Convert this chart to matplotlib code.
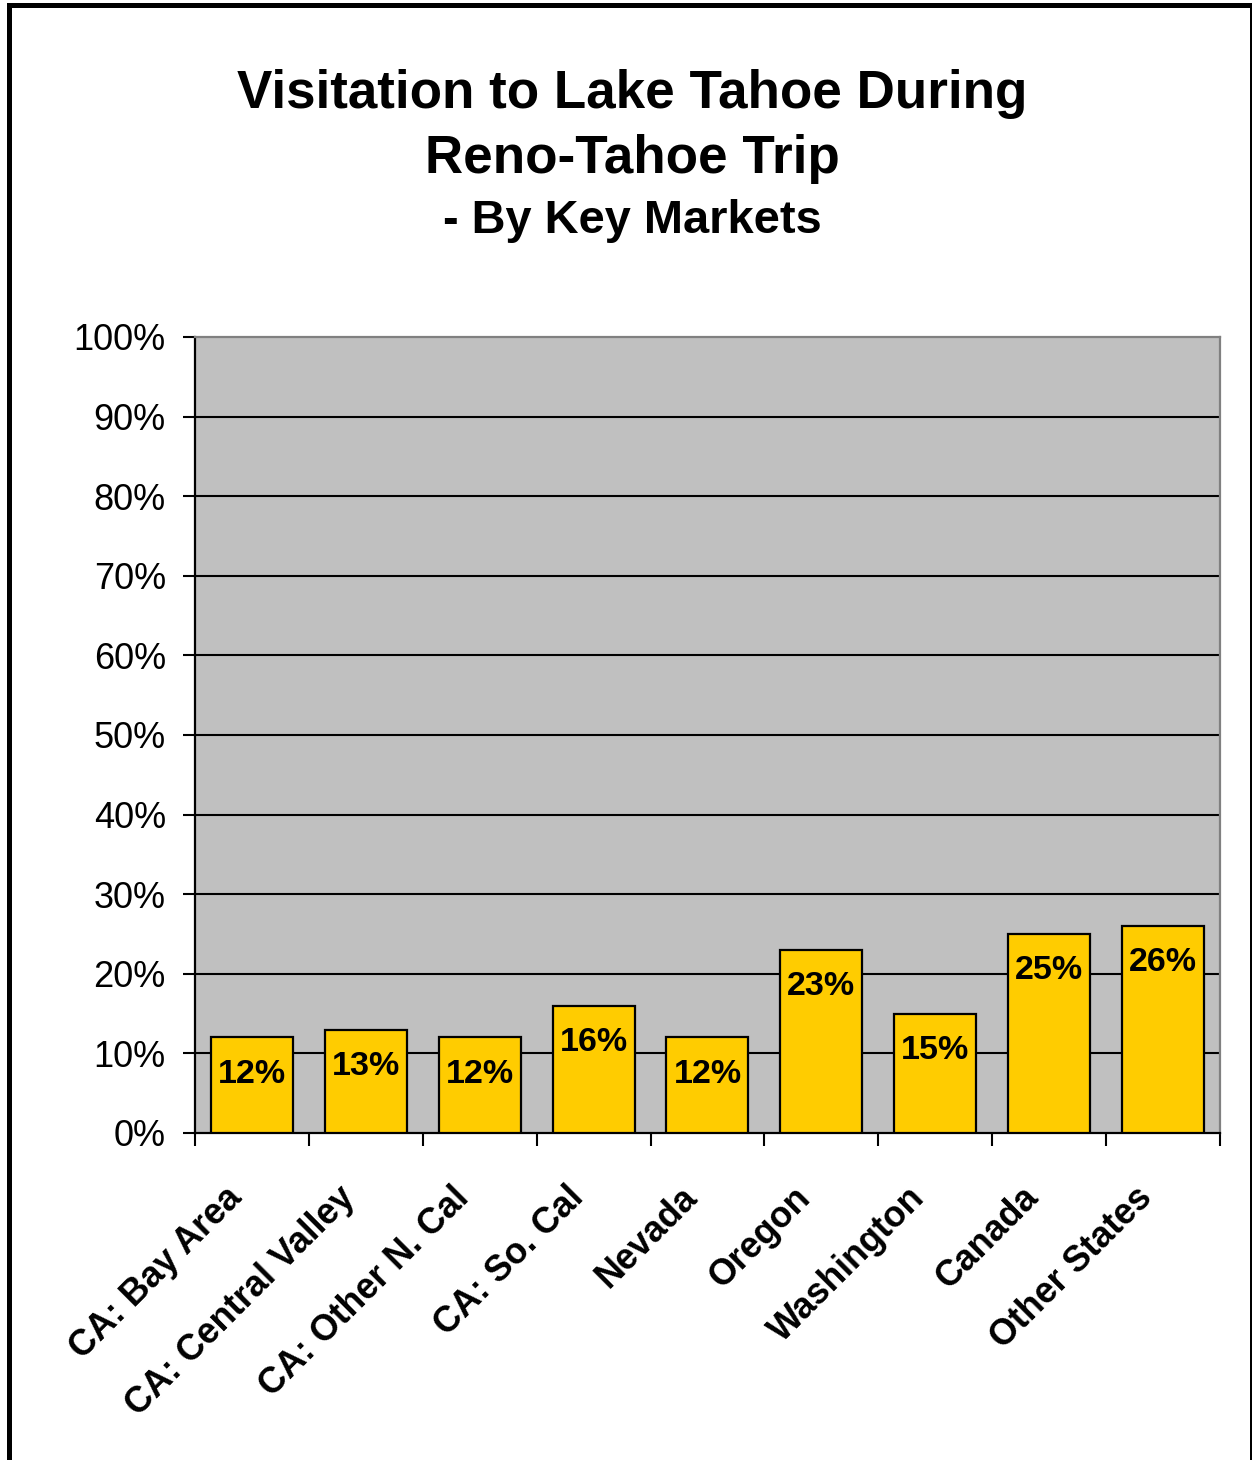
import matplotlib.pyplot as plt
import numpy as np
from matplotlib.patches import Rectangle
from matplotlib.ticker import FixedLocator, PercentFormatter
from matplotlib.transforms import ScaledTranslation

plt.rcParams["font.family"] = ["Liberation Sans", "DejaVu Sans"]

markets = [
    "CA: Bay Area",
    "CA: Central Valley",
    "CA: Other N. Cal",
    "CA: So. Cal",
    "Nevada",
    "Oregon",
    "Washington",
    "Canada",
    "Other States",
]
visited = [12, 13, 12, 16, 12, 23, 15, 25, 26]
title_lines = ["Visitation to Lake Tahoe During", "Reno-Tahoe Trip", "- By Key Markets"]

W, H = 1252, 1460
fig = plt.figure(figsize=(W / 100, H / 100), dpi=100)
ax = fig.add_axes([195 / W, 1 - 1133 / H, (1220 - 195) / W, (1133 - 337) / H])

# frame round the whole chart
fig.patches.append(Rectangle((7 / W, 0), 5 / W, 1 - 3 / H, transform=fig.transFigure,
                             facecolor="black", edgecolor="none"))
fig.patches.append(Rectangle((7 / W, 1 - 8 / H), 1243 / W, 5 / H, transform=fig.transFigure,
                             facecolor="black", edgecolor="none"))
fig.patches.append(Rectangle((1250 / W, 0), 2 / W, 1 - 3 / H, transform=fig.transFigure,
                             facecolor="black", edgecolor="none"))

# title, three lines
fig.text(632 / W, 1 - 108 / H, title_lines[0], ha="center", va="baseline",
         fontsize=38.2, fontweight="bold")
fig.text(632 / W, 1 - 173 / H, title_lines[1], ha="center", va="baseline",
         fontsize=38.2, fontweight="bold")
fig.text(632 / W, 1 - 233 / H, title_lines[2], ha="center", va="baseline",
         fontsize=33.8, fontweight="bold")

ax.set_facecolor("#C0C0C0")
x = np.arange(len(markets))
bars = ax.bar(x, visited, width=0.72, color="#FFCC00", edgecolor="black",
              linewidth=1.6, zorder=3)
for b, v in zip(bars, visited):
    ax.annotate(f"{v}%", (b.get_x() + b.get_width() / 2, v), xytext=(0, -26.5),
                textcoords="offset points", ha="center", va="center",
                fontsize=24.5, fontweight="bold", zorder=4)

ax.set_xlim(-0.5, len(markets) - 0.5)
ax.set_ylim(0, 100)
ax.set_yticks(np.arange(0, 101, 10))
ax.yaxis.set_major_formatter(PercentFormatter(decimals=0))
for y in range(10, 100, 10):
    ax.axhline(y, color="black", linewidth=1.5, zorder=1)

# category names, slanted, hung a little left of each bar centre
ax.set_xticks(x)
ax.set_xticklabels([])
label_pos = ax.get_xaxis_transform() + ScaledTranslation(-0.28, -0.47, fig.dpi_scale_trans)
for xi, name in zip(x, markets):
    ax.text(xi, 0, name, transform=label_pos, rotation=45, rotation_mode="anchor",
            ha="right", va="top", fontsize=25.8, fontweight="bold", clip_on=False)
ax.xaxis.set_minor_locator(FixedLocator(np.arange(-0.5, len(markets), 1)))
ax.tick_params(axis="x", which="major", length=0)
ax.tick_params(axis="x", which="minor", length=9, width=1.5, direction="out")
ax.tick_params(axis="y", length=9, width=1.5, direction="out", labelsize=26, pad=12)

for side in ("left", "bottom"):
    ax.spines[side].set_color("black")
    ax.spines[side].set_linewidth(1.6)
for side in ("top", "right"):
    ax.spines[side].set_color("#808080")
    ax.spines[side].set_linewidth(1.6)

fig.savefig("out.png", dpi=100)
